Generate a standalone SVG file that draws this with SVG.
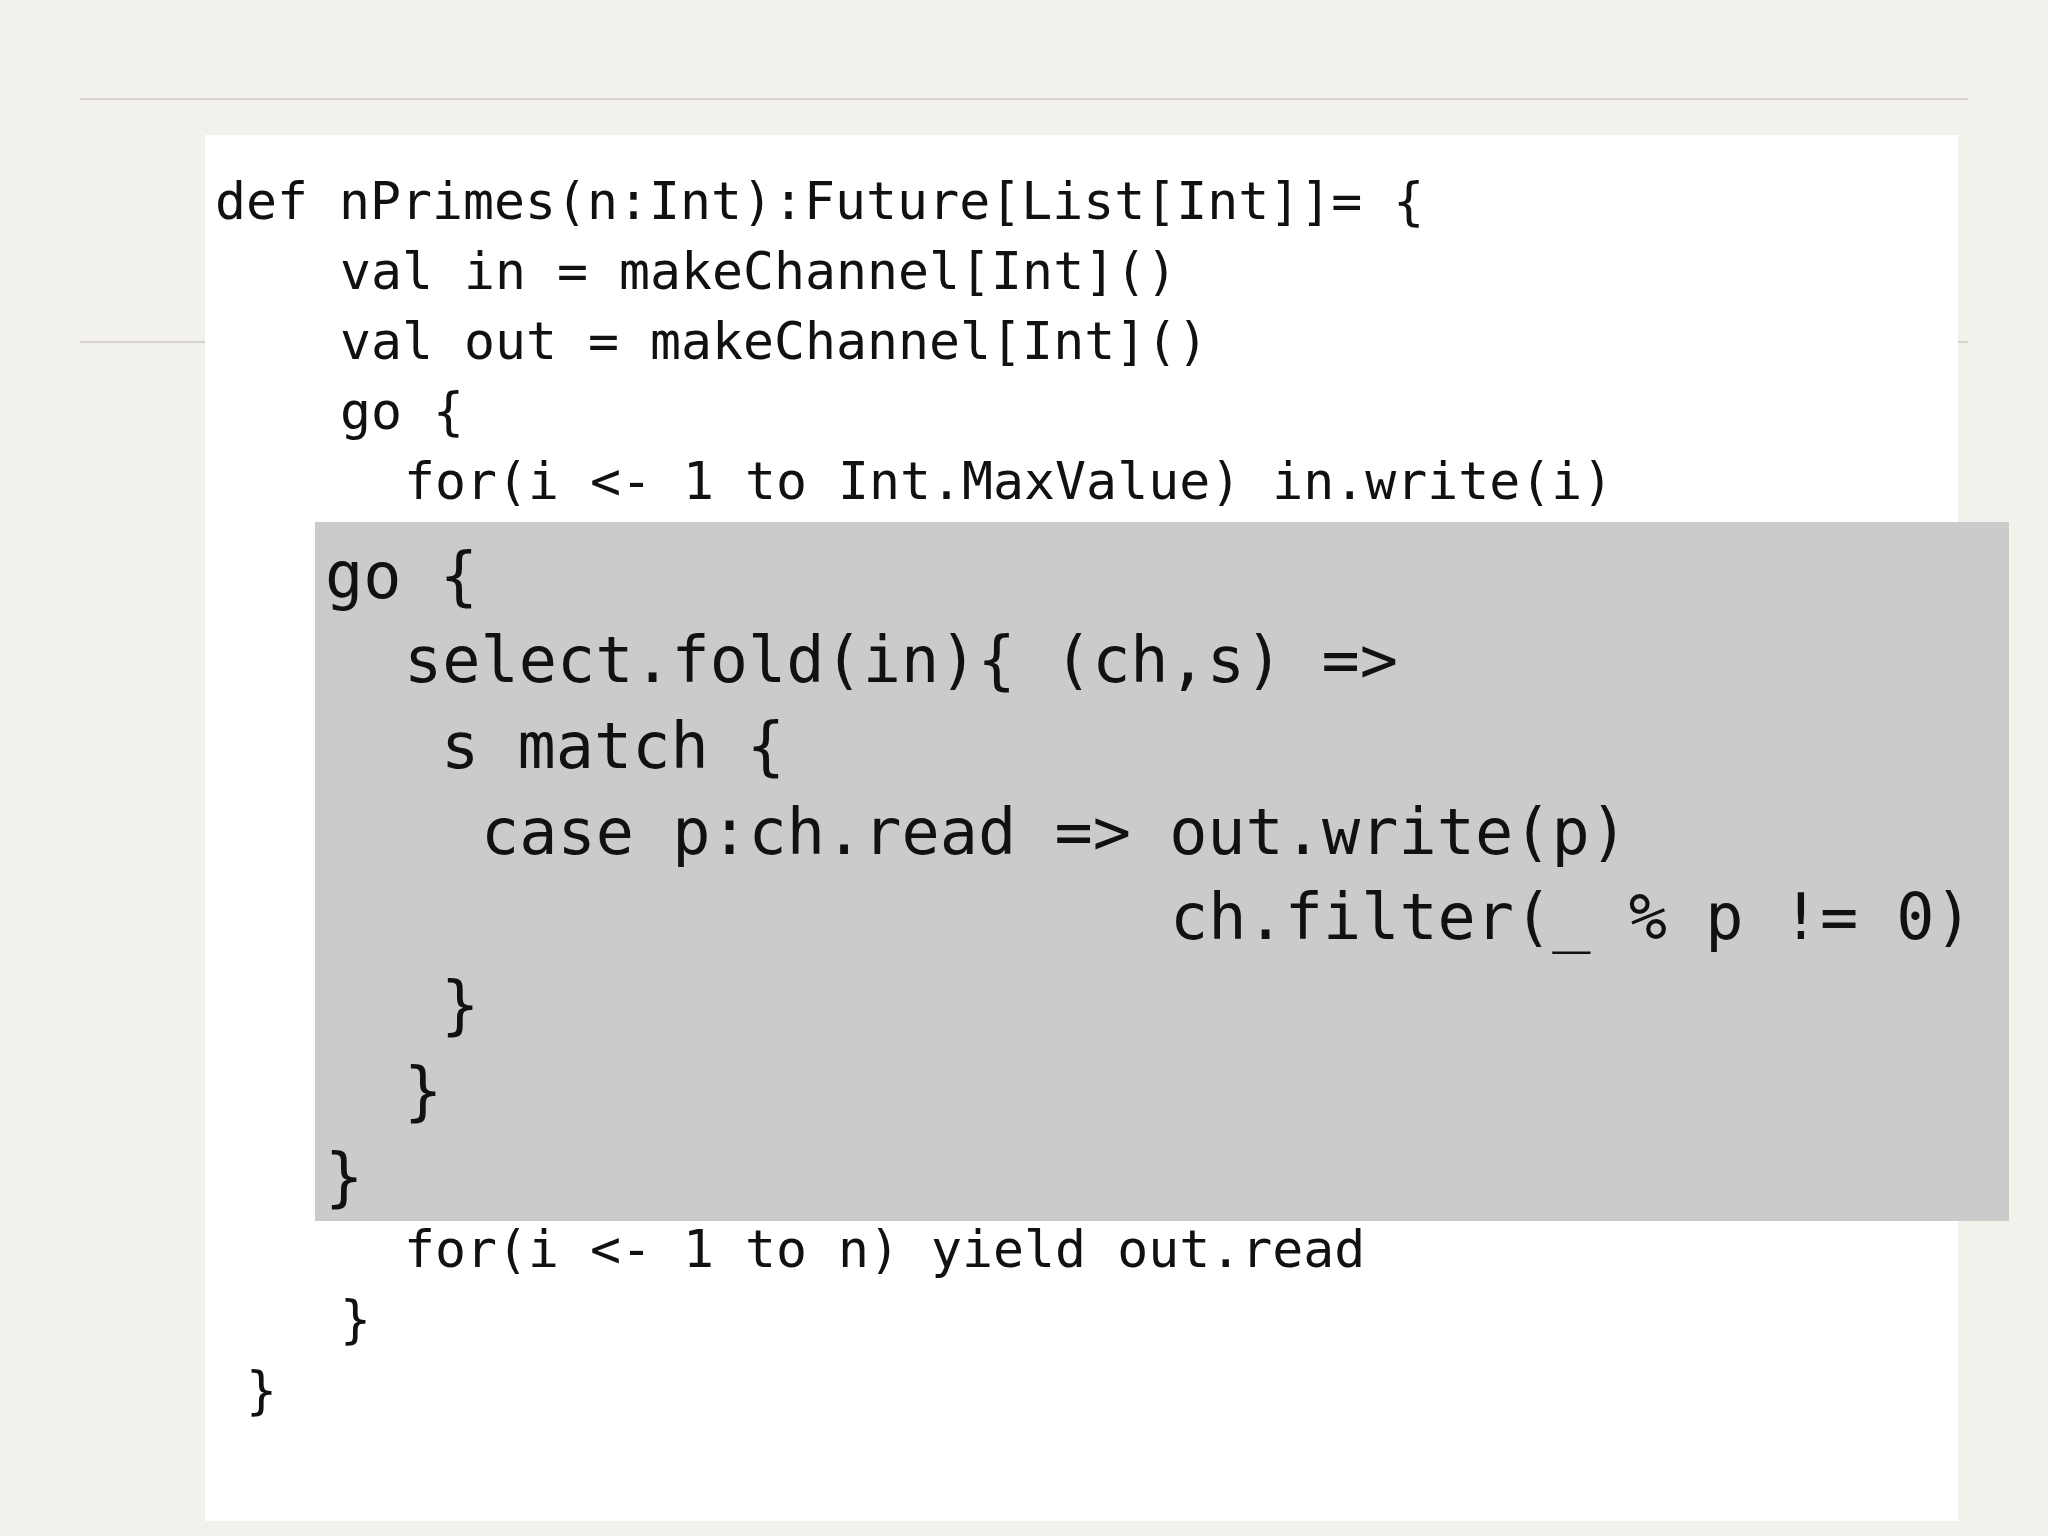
<svg xmlns="http://www.w3.org/2000/svg" width="2048" height="1536" viewBox="0 0 2048 1536" xml:space="preserve">
<style>
.s{font-family:"DejaVu Sans Mono","Liberation Mono",monospace;font-size:51.5px;fill:#111}
.b{font-family:"DejaVu Sans Mono","Liberation Mono",monospace;font-size:63.5px;fill:#111}
</style>
<rect width="2048" height="1536" fill="#f3f1ec"/>
<line x1="80" y1="99" x2="1968" y2="99" stroke="#d6d3cc" stroke-width="2"/>
<line x1="80" y1="342" x2="1968" y2="342" stroke="#d6d3cc" stroke-width="2"/>
<rect x="205" y="135" width="1753" height="1386" fill="#ffffff"/>
<g id="outer">
<text class="s" x="215" y="219">def nPrimes(n:Int):Future[List[Int]]= {</text>
<text class="s" x="340" y="289">val in = makeChannel[Int]()</text>
<text class="s" x="340" y="359">val out = makeChannel[Int]()</text>
<text class="s" x="340" y="429">go {</text>
<text class="s" x="404" y="499">for(i &lt;- 1 to Int.MaxValue) in.write(i)</text>
<text class="s" x="404" y="1267">for(i &lt;- 1 to n) yield out.read</text>
<text class="s" x="340" y="1337">}</text>
<text class="s" x="246" y="1408">}</text>
</g>
<g id="highlight">
<rect x="315" y="522" width="1694" height="699" fill="#cccacb"/>
<text class="b" x="325" y="598">go {</text>
<text class="b" x="404" y="682">select.fold(in){ (ch,s) =&gt;</text>
<text class="b" x="441" y="768">s match {</text>
<text class="b" x="481" y="854">case p:ch.read =&gt; out.write(p)</text>
<text class="b" x="1170" y="939">ch.filter(_ % p != 0)</text>
<text class="b" x="441" y="1027">}</text>
<text class="b" x="404" y="1113">}</text>
<text class="b" x="325" y="1199">}</text>
</g>
</svg>
